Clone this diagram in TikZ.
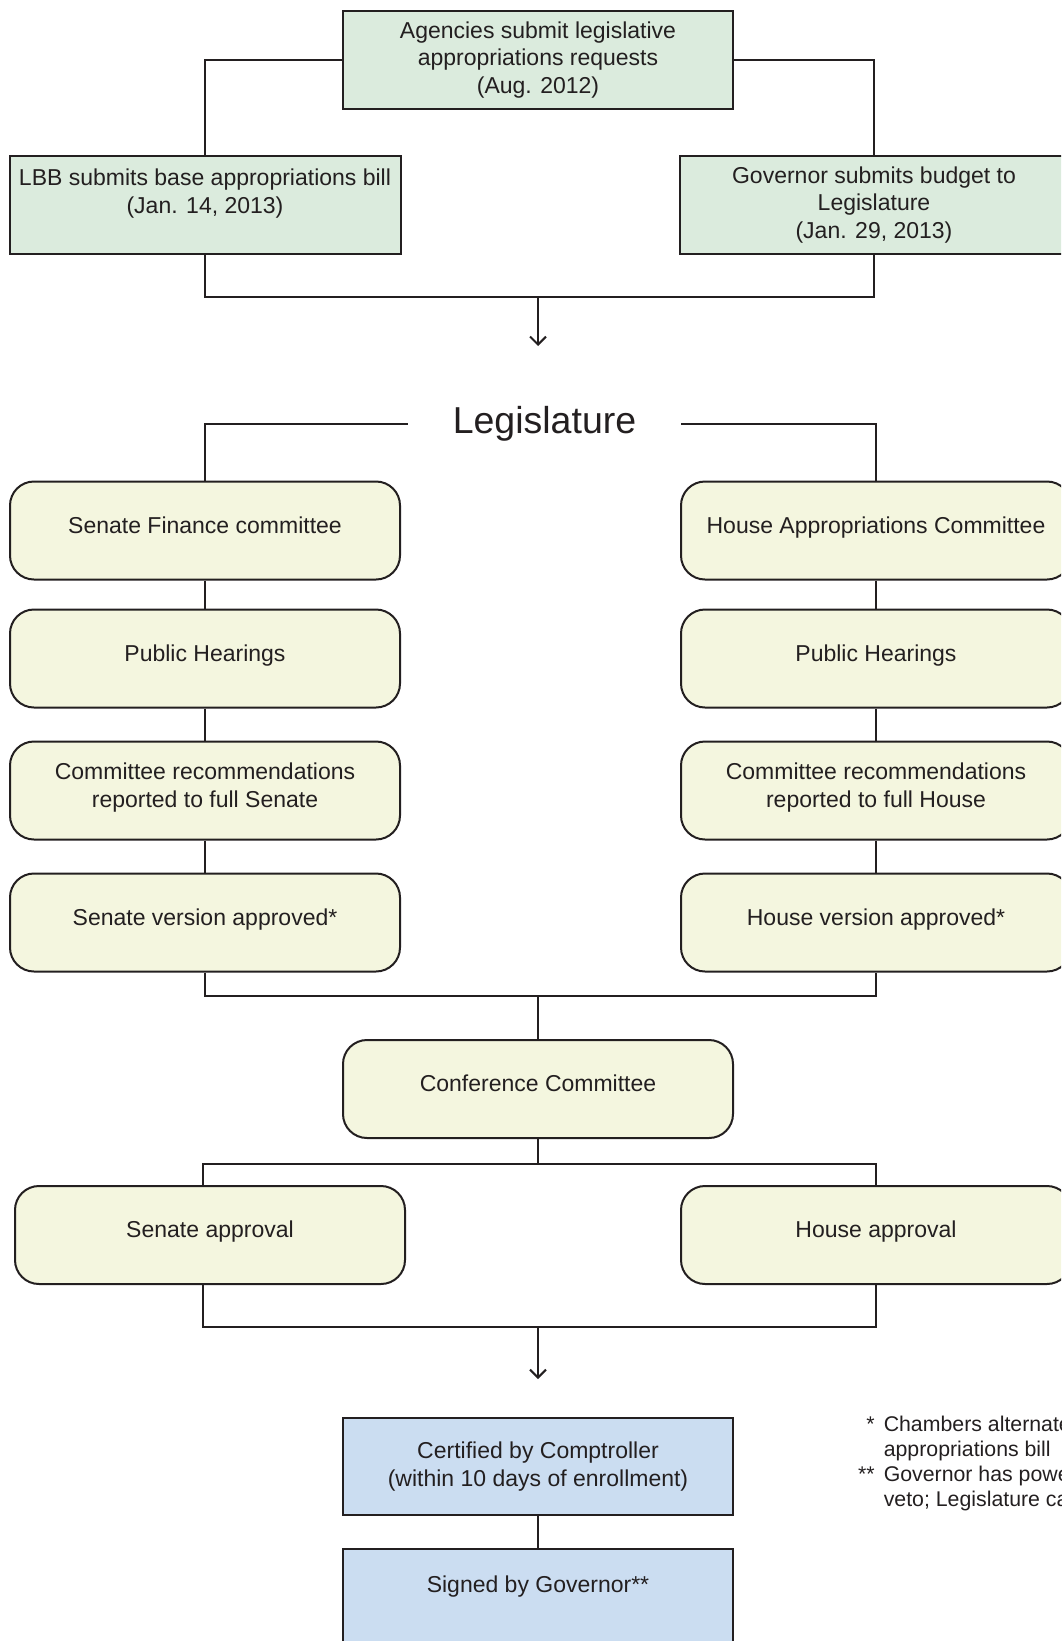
\documentclass[tikz,border=0pt]{standalone}
\usepackage{fontspec}
\setmainfont{Liberation Sans}
\usepackage{tikz}
\usetikzlibrary{arrows.meta,positioning,calc}
\definecolor{inkgray}{RGB}{35,31,32}
\definecolor{stepgreen}{RGB}{219,235,221}
\definecolor{stepyellow}{RGB}{244,246,223}
\definecolor{stepblue}{RGB}{203,221,241}
\tikzset{
block/.style = {draw=inkgray, fill=stepgreen, rectangle, line width=2pt, minimum height=98pt, minimum width=390pt, inner sep=3pt, align=center, font=\fontsize{23}{27.7}\selectfont, text=inkgray},
rblock/.style = {block, fill=stepyellow, rounded corners=24pt, text depth=11pt},
bblock/.style = {block, fill=stepblue},
tmp/.style  = {coordinate},
title/.style = {minimum width=273pt, inner sep=0pt, font=\fontsize{37.5}{40}\selectfont, text=inkgray},
notes/.style = {inner sep=0pt, anchor=north west, font=\fontsize{21.3}{25}\selectfont, text=inkgray},
wire/.style = {draw=inkgray, line width=2pt}
}

\begin{document}
\begin{tikzpicture}[x=1pt, y=-1pt, node distance=130pt, >={Straight Barb[length=8pt,width=16pt]}]
  \useasboundingbox (0,0) rectangle (1061,1641);
  \clip (0,0) rectangle (1061,1641);

  % requests and bills
  \node [block]                       (agency)   at (538,60)  {Agencies submit legislative\\appropriations requests\\(Aug. 2012)};
  \node [block, minimum width=391pt]  (lbb)      at (205,205) {LBB submits base appropriations bill\\(Jan. 14, 2013)\\ ~};
  \node [block, minimum width=388pt]  (gov)      at (874,205) {Governor submits budget to\\Legislature\\(Jan. 29, 2013)};
  \node [tmp]                         (mergea)   at (538,297) {};
  \node [tmp]                         (arrowa)   at (538,346) {};

  \draw [wire] (agency.west) -| (lbb.north);
  \draw [wire] (agency.east) -| (gov.north);
  \draw [wire] (lbb.south) |- (mergea) -| (gov.south);
  \draw [wire, ->] (mergea) -- (arrowa);

  % legislature
  \node [title]                                          (legis)    at (544.5,424) {Legislature};
  \node [rblock]                                         (senfin)   at (205,530.5) {Senate Finance committee};
  \node [rblock, below of=senfin, node distance=128pt]  (senhear)  {Public Hearings};
  \node [rblock, below of=senhear, node distance=132pt] (senrec)   {Committee recommendations\\reported to full Senate};
  \node [rblock, below of=senrec, node distance=132pt]  (senver)   {Senate version approved*};
  \node [rblock]                                         (housapp)  at (876,530.5) {House Appropriations Committee};
  \node [rblock, below of=housapp, node distance=128pt] (houshear) {Public Hearings};
  \node [rblock, below of=houshear, node distance=132pt](housrec)  {Committee recommendations\\reported to full House};
  \node [rblock, below of=housrec, node distance=132pt] (housver)  {House version approved*};

  \draw [wire] (legis.west) -| (senfin.north);
  \draw [wire] (legis.east) -| (housapp.north);
  \draw [wire] (senfin) -- (senhear) -- (senrec) -- (senver);
  \draw [wire] (housapp) -- (houshear) -- (housrec) -- (housver);

  % conference
  \node [tmp]                         (mergeb)   at (538,996) {};
  \node [rblock]                      (conf)     at (538,1089) {Conference Committee};
  \node [tmp]                         (splitc)   at (538,1163.5) {};
  \node [rblock]                      (senappr)  at (210,1235) {Senate approval};
  \node [rblock]                      (housappr) at (876,1235) {House approval};
  \node [tmp]                         (mergec)   at (538,1327) {};
  \node [tmp]                         (arrowc)   at (538,1379) {};

  \draw [wire] (senver.south) |- (mergeb) -| (housver.south);
  \draw [wire] (mergeb) -- (conf.north);
  \draw [wire] (conf.south) -- (splitc);
  \draw [wire] (splitc) -| ([xshift=-7pt]senappr.north);
  \draw [wire] (splitc) -| (housappr.north);
  \draw [wire] ([xshift=-7pt]senappr.south) |- (mergec) -| (housappr.south);
  \draw [wire, ->] (mergec) -- (arrowc);

  % enactment
  \node [bblock, minimum height=97pt] (cert)     at (538,1466.5) {Certified by Comptroller\\(within 10 days of enrollment)};
  \node [bblock, minimum height=97pt] (signed)   at (538,1597.5) {Signed by Governor**\\ ~};
  \draw [wire] (cert) -- (signed);

  \node [notes] (footnote) at (858,1414) {\begin{tabular}{@{}r@{\hspace{9pt}}l@{}}
    * & Chambers alternate\\
      & appropriations bill\\ \relax
    ** & Governor has power\\
      & veto; Legislature can
  \end{tabular}};
\end{tikzpicture}
\end{document}
